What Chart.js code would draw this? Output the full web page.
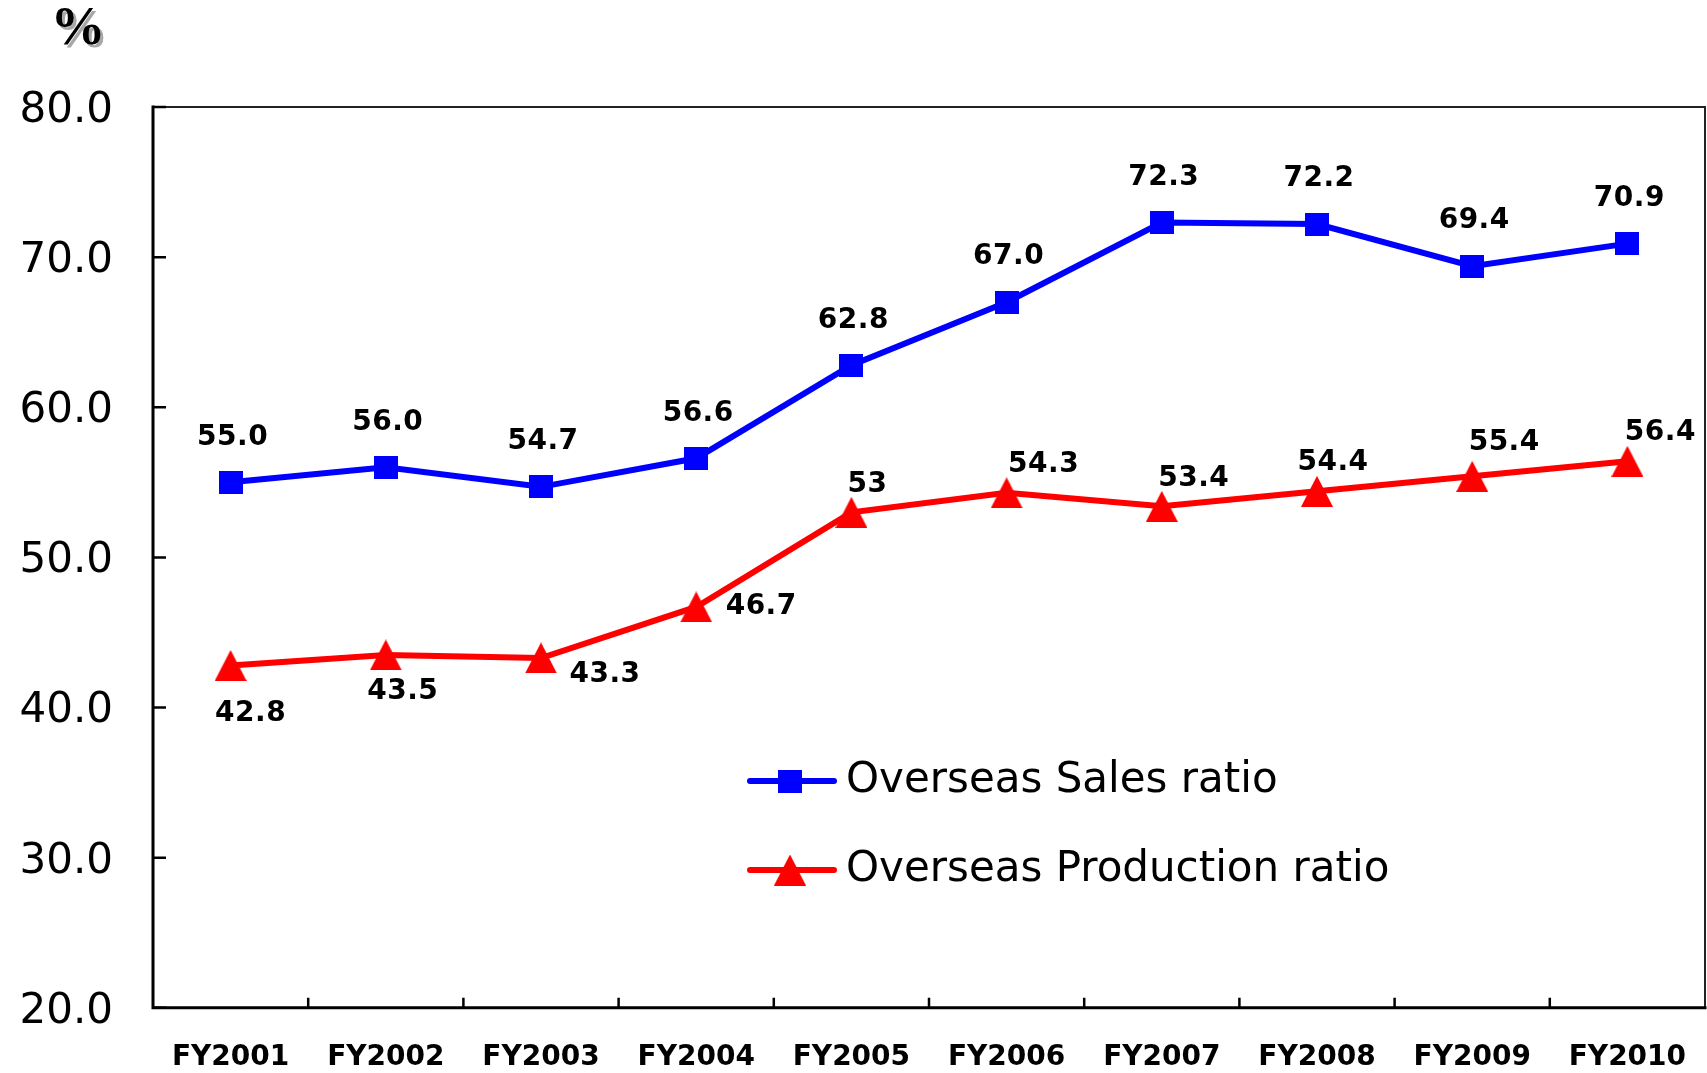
<!DOCTYPE html>
<html lang="en">
<head>
    <meta charset="UTF-8">
    <meta name="viewport" content="width=device-width, initial-scale=1.0">
    <script src="https://cdn.jsdelivr.net/npm/chart.js"></script>
    <title>Overseas Sales / Production ratio</title>
    <style>
        html, body { margin: 0; padding: 0; background: #fff; overflow: hidden; }
        #wrap { width: 1707px; height: 1073px; position: relative; }
    </style>
</head>
<body>
    <div id="wrap">
        <canvas id="myChart"></canvas>
    </div>

    <script>
        // fiscal years on the x axis
        const years = ['FY2001', 'FY2002', 'FY2003', 'FY2004', 'FY2005', 'FY2006', 'FY2007', 'FY2008', 'FY2009', 'FY2010'];
        // values kept as printed, the labels reuse the same text
        const salesRatio = ['55.0', '56.0', '54.7', '56.6', '62.8', '67.0', '72.3', '72.2', '69.4', '70.9'];
        const productionRatio = ['42.8', '43.5', '43.3', '46.7', '53', '54.3', '53.4', '54.4', '55.4', '56.4'];
        const yTicks = [20, 30, 40, 50, 60, 70, 80];

        // where each value label sits relative to its point
        const salesLabelOffset = years.map(() => [2, -45]);
        const prodLabelOffset = [[20, 48], [17, 37], [64, 17], [65, 0], [16, -28], [37, -28], [32, -28], [16, -29], [32, -34], [33, -29]];

        const BLUE = '#0000ff';
        const RED = '#ff0000';

        // marker images: square and a triangle centred on the point
        function makeSquare(w, h, color) {
            const c = document.createElement('canvas');
            c.width = w; c.height = h;
            const g = c.getContext('2d');
            g.fillStyle = color;
            g.fillRect(0, 0, w, h);
            return c;
        }
        function makeTriangle(w, h, color) {
            const c = document.createElement('canvas');
            c.width = w; c.height = h;
            const g = c.getContext('2d');
            g.fillStyle = color;
            g.beginPath();
            g.moveTo(w / 2, 0);
            g.lineTo(w, h);
            g.lineTo(0, h);
            g.closePath();
            g.fill();
            return c;
        }
        const squareMark = makeSquare(24, 23, BLUE);
        const triangleMark = makeTriangle(32, 31, RED);

        // frame, inward tick marks and the % unit
        const framePlugin = {
            id: 'frame',
            afterDraw(chart) {
                const ctx = chart.ctx;
                const a = chart.chartArea;
                const xs = chart.scales.x;
                const ys = chart.scales.y;
                ctx.save();
                ctx.lineCap = 'square';

                ctx.strokeStyle = '#222';
                ctx.lineWidth = 2;
                ctx.beginPath();
                ctx.moveTo(a.left, a.top);
                ctx.lineTo(a.right, a.top);
                ctx.lineTo(a.right, a.bottom);
                ctx.stroke();

                ctx.strokeStyle = '#000';
                ctx.lineWidth = 3;
                ctx.beginPath();
                ctx.moveTo(a.left, a.top);
                ctx.lineTo(a.left, a.bottom);
                ctx.lineTo(a.right, a.bottom);
                ctx.stroke();

                ctx.lineWidth = 2.5;
                ctx.lineCap = 'butt';
                ctx.beginPath();
                yTicks.forEach(v => {
                    const py = ys.getPixelForValue(v);
                    ctx.moveTo(a.left, py);
                    ctx.lineTo(a.left + 13, py);
                });
                for (let i = 1; i < years.length; i++) {
                    const px = xs.getPixelForValue(i - 0.5);
                    ctx.moveTo(px, a.bottom);
                    ctx.lineTo(px, a.bottom - 10);
                }
                ctx.stroke();

                // unit mark with a soft drop shadow
                ctx.font = 'bold 55px "Liberation Serif"';
                ctx.textAlign = 'center';
                ctx.textBaseline = 'middle';
                ctx.fillStyle = '#a8a8a8';
                ctx.fillText('%', 81, 33);
                ctx.fillStyle = '#000';
                ctx.fillText('%', 78, 30);
                ctx.restore();
            }
        };

        // value labels next to each point
        const valueLabelPlugin = {
            id: 'valueLabels',
            afterDatasetsDraw(chart) {
                const ctx = chart.ctx;
                ctx.save();
                ctx.font = 'bold 28px "DejaVu Sans"';
                ctx.letterSpacing = '0.5px';
                ctx.fillStyle = '#000';
                ctx.textAlign = 'center';
                ctx.textBaseline = 'middle';
                chart.data.datasets.forEach((ds, di) => {
                    const meta = chart.getDatasetMeta(di);
                    const texts = di === 0 ? salesRatio : productionRatio;
                    const offs = di === 0 ? salesLabelOffset : prodLabelOffset;
                    meta.data.forEach((pt, i) => {
                        ctx.fillText(texts[i], pt.x + offs[i][0], pt.y + offs[i][1]);
                    });
                });
                ctx.restore();
            }
        };

        // legend placed inside the plot area
        const insideLegendPlugin = {
            id: 'insideLegend',
            afterDatasetsDraw(chart) {
                const ctx = chart.ctx;
                const rows = [781, 870];
                ctx.save();
                chart.data.datasets.forEach((ds, di) => {
                    const y = rows[di];
                    ctx.strokeStyle = ds.borderColor;
                    ctx.lineWidth = 6;
                    ctx.lineCap = 'round';
                    ctx.beginPath();
                    ctx.moveTo(750, y);
                    ctx.lineTo(834, y);
                    ctx.stroke();
                    Chart.helpers.drawPoint(ctx, {
                        pointStyle: ds.pointStyle,
                        radius: 16,
                        borderWidth: 0,
                        rotation: 0
                    }, 790, y);
                    ctx.fillStyle = '#000';
                    ctx.font = '42px "DejaVu Sans"';
                    ctx.textAlign = 'left';
                    ctx.textBaseline = 'middle';
                    ctx.fillText(ds.label, 846, y);
                });
                ctx.restore();
            }
        };

        const ctx = document.getElementById('myChart').getContext('2d');
        const myChart = new Chart(ctx, {
            type: 'line',
            data: {
                labels: years,
                datasets: [{
                    label: 'Overseas Sales ratio',
                    data: salesRatio.map(Number),
                    borderColor: BLUE,
                    backgroundColor: BLUE,
                    borderWidth: 6,
                    pointStyle: squareMark,
                    pointRadius: 16,
                    pointHoverRadius: 16,
                    pointBorderWidth: 0,
                    tension: 0
                }, {
                    label: 'Overseas Production ratio',
                    data: productionRatio.map(Number),
                    borderColor: RED,
                    backgroundColor: RED,
                    borderWidth: 6,
                    pointStyle: triangleMark,
                    pointRadius: 16,
                    pointHoverRadius: 16,
                    pointBorderWidth: 0,
                    tension: 0
                }]
            },
            options: {
                responsive: true,
                maintainAspectRatio: false,
                animation: false,
                layout: {
                    // points never touch the edge here, so skip the marker padding
                    autoPadding: false,
                    padding: { top: 107, right: 2, left: 0, bottom: 0 }
                },
                scales: {
                    x: {
                        offset: true,
                        grid: { display: false, drawTicks: false, offset: true },
                        border: { display: false },
                        ticks: {
                            // tall line box pushes the label down below the axis
                            padding: 0,
                            color: '#000',
                            font: { family: 'DejaVu Sans', size: 28, weight: 'bold', lineHeight: 3.55 }
                        },
                        afterFit(scale) {
                            scale.height = 62;
                            scale.paddingLeft = 0;
                            scale.paddingRight = 0;
                        }
                    },
                    y: {
                        min: 20,
                        max: 80,
                        grid: { display: false, drawTicks: false },
                        border: { display: false },
                        ticks: {
                            stepSize: 10,
                            padding: 40,
                            labelOffset: 4,
                            color: '#000',
                            font: { family: 'DejaVu Sans', size: 42 },
                            callback: v => v.toFixed(1)
                        },
                        afterFit(scale) { scale.width = 153; }
                    }
                },
                plugins: {
                    legend: { display: false },
                    tooltip: { enabled: false }
                }
            },
            plugins: [framePlugin, valueLabelPlugin, insideLegendPlugin]
        });
    </script>
</body>
</html>
